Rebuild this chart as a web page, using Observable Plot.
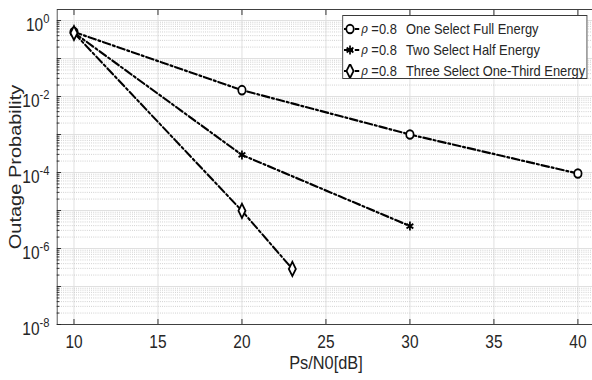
<!DOCTYPE html>
<html><head><meta charset="utf-8">
<script src="https://cdn.jsdelivr.net/npm/d3@7"></script>
<script src="https://cdn.jsdelivr.net/npm/@observablehq/plot@0.6"></script>
<style>
html,body{margin:0;padding:0;background:#fff;}
#wrap{width:592px;height:380px;overflow:hidden;position:relative;background:#fff;}
#inner{position:absolute;left:0;top:0;width:688px;height:380px;transform:scaleX(0.86);transform-origin:0 0;font-family:'Liberation Sans',Arial,sans-serif;color:#262626;}
.legend{position:absolute;left:398px;top:15px;width:285px;height:64px;box-sizing:border-box;border:1px solid #3a3a3a;background:#fff;padding-top:2px;}
.row{position:relative;height:21px;display:flex;align-items:center;font-size:15px;white-space:pre;}
.row svg{margin-left:1px;margin-right:2px;flex:none;}
.rho{font-family:'DejaVu Serif',serif;font-style:italic;font-size:13px;}
.name{position:absolute;left:73px;}
</style></head><body><div id="wrap"><div id="inner"></div></div>
<script>
// ---- data ----
const snrOne = [10, 20, 30, 40];
const pOne = [0.5, 0.0147, 1.0e-3, 9.4e-5];
const snrTwo = [10, 20, 30];
const pTwo = [0.48, 2.9e-4, 3.9e-6];
const snrThree = [10, 20, 23];
const pThree = [0.47, 9.8e-6, 2.9e-7];
const seriesNames = ["One Select Full Energy", "Two Select Half Energy", "Three Select One-Third Energy"];
const rhoText = "\u03C1";
const rhoValue = " =0.8";
const xTicks = [10, 15, 20, 25, 30, 35, 40];
const yLabelExps = [0, -2, -4, -6, -8];
const xLabel = "Ps/N0[dB]";
const yLabel = "Outage Probability";
const symbolsUsed = ["circle", "asterisk", "diamond"];

// ---- build table ----
const rows = [
  ...snrOne.map((x, i) => ({series: seriesNames[0], x, p: pOne[i]})),
  ...snrTwo.map((x, i) => ({series: seriesNames[1], x, p: pTwo[i]})),
  ...snrThree.map((x, i) => ({series: seriesNames[2], x, p: pThree[i]}))
];
const decades = d3.range(-8, 1).map(k => Math.pow(10, k));
const minor = [];
for (let k = -8; k < 0; k++) for (let m = 2; m <= 9; m++) minor.push(m * Math.pow(10, k));
const majorLabels = yLabelExps.map(e => Math.pow(10, e));

const dash = "9,3,2.5,3";
const plot = Plot.plot({
  width: 688, height: 380,
  marginLeft: 66, marginRight: -3, marginTop: 9, marginBottom: 56,
  style: {fontFamily: "'Liberation Sans', Arial, sans-serif", fontSize: "18px", color: "#262626", background: "transparent", overflow: "visible"},
  x: {domain: [9, 41], axis: null},
  y: {type: "log", domain: [1e-8, 1.95], axis: null},
  symbol: {domain: seriesNames, range: symbolsUsed},
  marks: [
    Plot.gridX(xTicks, {stroke: "#dedede", strokeOpacity: 1}),
    Plot.gridY(minor, {stroke: "#c6c6c6", strokeOpacity: 1, strokeDasharray: "1,1.5"}),
    Plot.gridY(decades, {stroke: "#dedede", strokeOpacity: 1}),
    Plot.frame({stroke: "#404040"}),
    Plot.axisX(xTicks, {anchor: "bottom", tickSize: -5, tickPadding: 16, label: null}),
    Plot.axisX(xTicks, {anchor: "top", tickSize: -5, tickFormat: () => "", label: null}),
    Plot.axisY(decades, {anchor: "left", tickSize: -5, tickFormat: () => "", label: null}),
    Plot.axisY(minor, {anchor: "left", tickSize: -3, tickFormat: () => "", label: null}),
    Plot.axisY(majorLabels, {anchor: "left", tickSize: 0, tickPadding: 9, tickFormat: d => String(Math.round(Math.log10(d))), label: null}),
    Plot.line(rows, {x: "x", y: "p", z: "series", stroke: "#000", strokeWidth: 2.2, strokeDasharray: dash}),
    Plot.dot(rows, {x: "x", y: "p", symbol: "series", r: 4.3, stroke: "#000", strokeWidth: 2, fill: "white"}),
    Plot.text([xLabel], {text: d => d, frameAnchor: "bottom", dy: 44, fontSize: 19}),
    Plot.text([yLabel], {text: d => d, frameAnchor: "left", textAnchor: "middle", rotate: -90, dx: -49, fontSize: 20})
  ]
});

// superscript tick labels 10^k
d3.select(plot).selectAll('g[aria-label="y-axis tick label"] text').each(function () {
  const t = this.textContent;
  if (t === "") return;
  const sel = d3.select(this);
  sel.text(null).attr("dy", 4.5);
  sel.append("tspan").text("10");
  sel.append("tspan").attr("dy", -7.5).attr("font-size", 13).text(t);
});

const inner = document.getElementById("inner");
inner.appendChild(plot);

// legend
const legend = document.createElement("div");
legend.className = "legend";
seriesNames.forEach((name, i) => {
  const row = document.createElement("div");
  row.className = "row";
  const sw = d3.create("svg").attr("width", 18).attr("height", 14);
  sw.append("line").attr("x1", 0).attr("x2", 18).attr("y1", 7).attr("y2", 7)
    .attr("stroke", "#000").attr("stroke-width", 2.2).attr("stroke-dasharray", "6,2,2.5,2");
  const symType = [d3.symbolCircle, d3.symbolAsterisk, d3.symbolDiamond][i];
  sw.append("path").attr("transform", "translate(7,7)")
    .attr("d", d3.symbol(symType, Math.PI * 4.3 * 4.3)())
    .attr("fill", "white").attr("stroke", "#000").attr("stroke-width", 2);
  row.appendChild(sw.node());
  const r = document.createElement("span"); r.className = "rho"; r.textContent = rhoText; row.appendChild(r);
  const v = document.createElement("span"); v.textContent = rhoValue; row.appendChild(v);
  const n = document.createElement("span"); n.className = "name"; n.textContent = name; row.appendChild(n);
  legend.appendChild(row);
});
inner.appendChild(legend);
</script>
</body></html>
